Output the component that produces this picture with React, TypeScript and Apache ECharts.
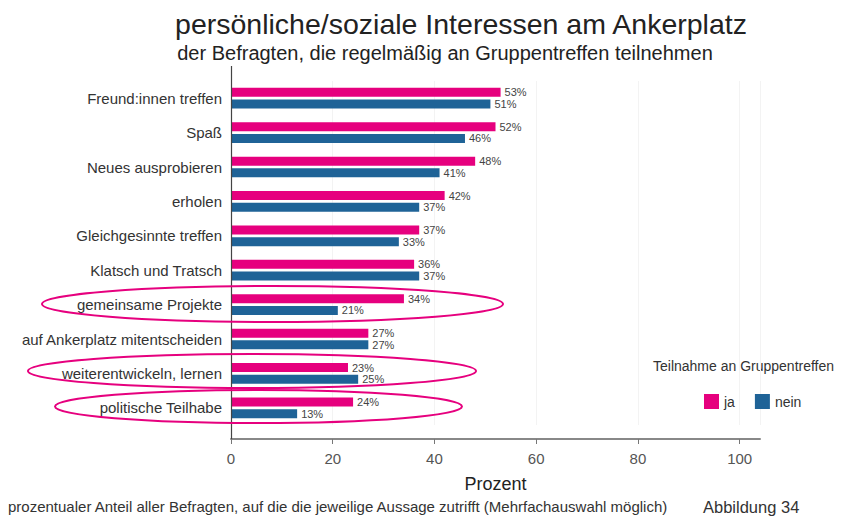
import React, { useEffect, useRef } from "react";
import * as echarts from "echarts";

const categories = [
  "Freund:innen treffen",
  "Spaß",
  "Neues ausprobieren",
  "erholen",
  "Gleichgesinnte treffen",
  "Klatsch und Tratsch",
  "gemeinsame Projekte",
  "auf Ankerplatz mitentscheiden",
  "weiterentwickeln, lernen",
  "politische Teilhabe",
];
const jaValues = [53, 52, 48, 42, 37, 36, 34, 27, 23, 24];
const neinValues = [51, 46, 41, 37, 33, 37, 21, 27, 25, 13];
const seriesNames = ["ja", "nein"];

const PINK = "#E6007E";
const BLUE = "#1F6397";
const FONT = "'Liberation Sans', Arial, sans-serif";

export default function App() {
  const ref = useRef<HTMLDivElement>(null);
  useEffect(() => {
    if (!ref.current) return;
    const chart = echarts.init(ref.current, null, { renderer: "svg" });
    const labelStyle = {
      show: true,
      position: "right",
      distance: 4,
      fontSize: 11,
      color: "#444",
      fontFamily: FONT,
      formatter: "{c}%",
    };
    chart.setOption({
      animation: false,
      backgroundColor: "#fff",
      textStyle: { fontFamily: FONT },
      title: [
        {
          text: "persönliche/soziale Interessen am Ankerplatz",
          left: 456,
          textAlign: "center",
          top: 4,
          textStyle: { fontSize: 28.5, fontWeight: "normal", color: "#222", fontFamily: FONT },
        },
        {
          text: "der Befragten, die regelmäßig an Gruppentreffen teilnehmen",
          left: 440,
          textAlign: "center",
          top: 38,
          textStyle: { fontSize: 20, fontWeight: "normal", color: "#222", fontFamily: FONT },
        },
      ],
      legend: {
        data: seriesNames,
        left: 699,
        top: 389,
        itemWidth: 15,
        itemHeight: 15,
        itemGap: 20,
        icon: "rect",
        textStyle: { fontSize: 14, color: "#333", fontFamily: FONT },
      },
      grid: { left: 231, right: 90, top: 81, height: 344 },
      xAxis: {
        type: "value",
        min: 0,
        max: 104,
        interval: 20,
        offset: 14,
        name: "Prozent",
        nameLocation: "middle",
        nameGap: 36,
        nameTextStyle: { fontSize: 18, color: "#222", fontFamily: FONT },
        axisLine: { show: true, lineStyle: { color: "#888", width: 2 } },
        axisTick: { show: true, length: 5, lineStyle: { color: "#777" } },
        axisLabel: {
          fontSize: 15,
          color: "#555",
          margin: 12,
          showMaxLabel: false,
          formatter: (v: number) => (v % 20 === 0 ? String(v) : ""),
        },
        splitLine: { show: true, lineStyle: { color: "#f3f3f3" } },
      },
      yAxis: {
        type: "category",
        data: categories,
        inverse: true,
        axisLine: { show: false },
        axisTick: { show: false },
        axisLabel: { fontSize: 15, color: "#333", margin: 9, fontFamily: FONT },
      },
      series: [
        {
          name: seriesNames[0],
          type: "bar",
          data: jaValues,
          barWidth: 9,
          barGap: "30%",
          itemStyle: { color: PINK },
          label: labelStyle,
        },
        {
          name: seriesNames[1],
          type: "bar",
          data: neinValues,
          barWidth: 9,
          barGap: "30%",
          itemStyle: { color: BLUE },
          label: labelStyle,
        },
      ],
      graphic: [
        {
          type: "line",
          shape: { x1: 231.5, y1: 66, x2: 231.5, y2: 439 },
          style: { stroke: "#444", lineWidth: 1.2 },
          z: 10,
        },
        {
          type: "text",
          left: 653,
          top: 359,
          style: { text: "Teilnahme an Gruppentreffen", fill: "#333", font: "14px " + FONT },
        },
        {
          type: "ellipse",
          shape: { cx: 272.5, cy: 304, rx: 230.5, ry: 18 },
          style: { fill: "none", stroke: PINK, lineWidth: 2 },
          z: 20,
        },
        {
          type: "ellipse",
          shape: { cx: 252, cy: 371, rx: 224, ry: 17 },
          style: { fill: "none", stroke: PINK, lineWidth: 2 },
          z: 20,
        },
        {
          type: "ellipse",
          shape: { cx: 258.5, cy: 406.5, rx: 203.5, ry: 16.5 },
          style: { fill: "none", stroke: PINK, lineWidth: 2 },
          z: 20,
        },
        {
          type: "text",
          left: 8,
          top: 499,
          style: {
            text: "prozentualer Anteil aller Befragten, auf die die jeweilige Aussage zutrifft (Mehrfachauswahl möglich)",
            fill: "#333",
            font: "15px " + FONT,
          },
        },
        {
          type: "text",
          left: 703,
          top: 498,
          style: { text: "Abbildung 34", fill: "#333", font: "16.5px " + FONT },
        },
      ],
    });
    return () => chart.dispose();
  }, []);
  return (
    <div
      ref={ref}
      style={{ position: "absolute", left: 0, top: 0, width: 850, height: 519 }}
    />
  );
}
